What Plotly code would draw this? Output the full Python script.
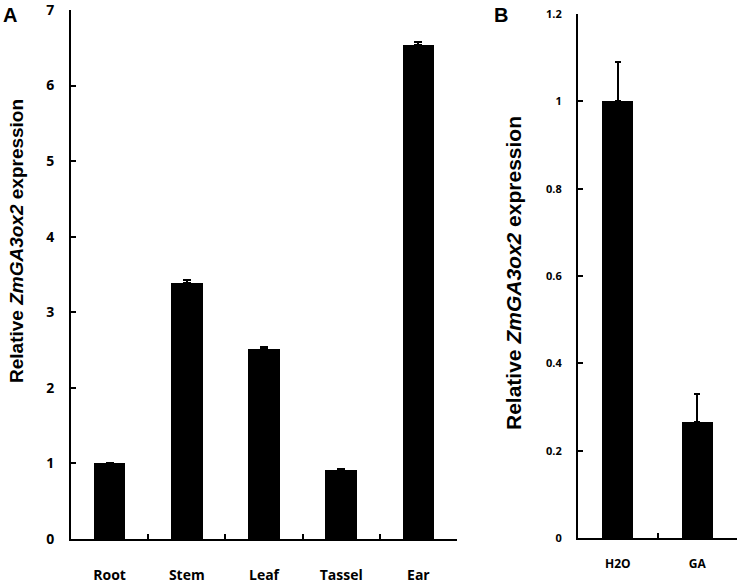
import plotly.graph_objects as go

# panel A: tissues
tissues = ["Root", "Stem", "Leaf", "Tassel", "Ear"]
tissue_expr = [1.0, 3.39, 2.52, 0.91, 6.54]
tissue_err = [0.0, 0.04, 0.02, 0.01, 0.04]

# panel B: treatment
treatments = ["H2O", "GA"]
treat_expr = [1.0, 0.265]
treat_err = [0.09, 0.065]

W, H = 740, 583


def px_x(v):
    return v / W


def px_y(v):
    return 1 - v / H


fig = go.Figure()

fig.add_trace(go.Bar(
    x=tissues, y=tissue_expr, width=0.41,
    marker=dict(color="black", line=dict(width=0)),
    error_y=dict(type="data", symmetric=False, array=tissue_err,
                 arrayminus=[0] * len(tissue_err),
                 color="black", thickness=2, width=4),
    xaxis="x", yaxis="y", showlegend=False,
))

fig.add_trace(go.Bar(
    x=treatments, y=treat_expr, width=0.39,
    marker=dict(color="black", line=dict(width=0)),
    error_y=dict(type="data", symmetric=False, array=treat_err,
                 arrayminus=[0] * len(treat_err),
                 color="black", thickness=2, width=3),
    xaxis="x2", yaxis="y2", showlegend=False,
))

tick_font_a = dict(family="Open Sans", size=14, color="black", weight="bold")
tick_font_b = dict(family="Open Sans", size=11, color="black", weight="bold")

axis_common = dict(showline=True, linecolor="black", linewidth=2,
                   showgrid=False, zeroline=False, ticks="inside",
                   tickcolor="black", tickwidth=2, ticklen=5,
                   automargin=False, ticklabeloverflow="allow")

fig.update_layout(
    template="none",
    width=W, height=H,
    margin=dict(l=0, r=0, t=0, b=0, pad=0),
    paper_bgcolor="white", plot_bgcolor="white",
    bargap=0,
    xaxis=dict(domain=[px_x(71), px_x(457)], anchor="y",
               range=[-0.5, 4.5], tickson="boundaries",
               tickfont=dict(family="Open Sans", size=14, color="black", weight="bold"),
               ticklabelstandoff=22, **axis_common),
    yaxis=dict(domain=[px_y(539), px_y(10)], anchor="x",
               range=[0, 7], dtick=1, tickfont=tick_font_a,
               ticklabelstandoff=12, **axis_common),
    xaxis2=dict(domain=[px_x(578), px_x(737)], anchor="y2",
                range=[-0.5, 1.5], tickson="boundaries",
                tickfont=dict(family="Open Sans", size=12, color="black", weight="bold"),
                ticklabelstandoff=14, **axis_common),
    yaxis2=dict(domain=[px_y(538), px_y(14)], anchor="x2",
                range=[0, 1.2], tickvals=[0, 0.2, 0.4, 0.6, 0.8, 1, 1.2],
                ticktext=["0", "0.2", "0.4", "0.6", "0.8", "1", "1.2"],
                tickfont=tick_font_b, ticklabelstandoff=12, **axis_common),
)

title_text = "<b>Relative <i>ZmGA3ox2</i> expression</b>"
fig.add_annotation(text=title_text, textangle=-90, showarrow=False,
                   xref="paper", yref="paper", x=px_x(16), y=px_y(241),
                   xanchor="center", yanchor="middle",
                   font=dict(family="Liberation Sans", size=19, color="black"))
fig.add_annotation(text=title_text, textangle=-90, showarrow=False,
                   xref="paper", yref="paper", x=px_x(513), y=px_y(273),
                   xanchor="center", yanchor="middle",
                   font=dict(family="Liberation Sans", size=21, color="black"))

fig.add_annotation(text="<b>A</b>", showarrow=False, xref="paper", yref="paper",
                   x=px_x(10), y=px_y(15), xanchor="center", yanchor="middle",
                   font=dict(family="Liberation Sans", size=20, color="black"))
fig.add_annotation(text="<b>B</b>", showarrow=False, xref="paper", yref="paper",
                   x=px_x(501), y=px_y(15), xanchor="center", yanchor="middle",
                   font=dict(family="Liberation Sans", size=20, color="black"))

# drop the default page margin so the figure fills the window exactly
fig.write_html("out.html", config={"displayModeBar": False},
               post_script="document.body.style.margin='0';")
